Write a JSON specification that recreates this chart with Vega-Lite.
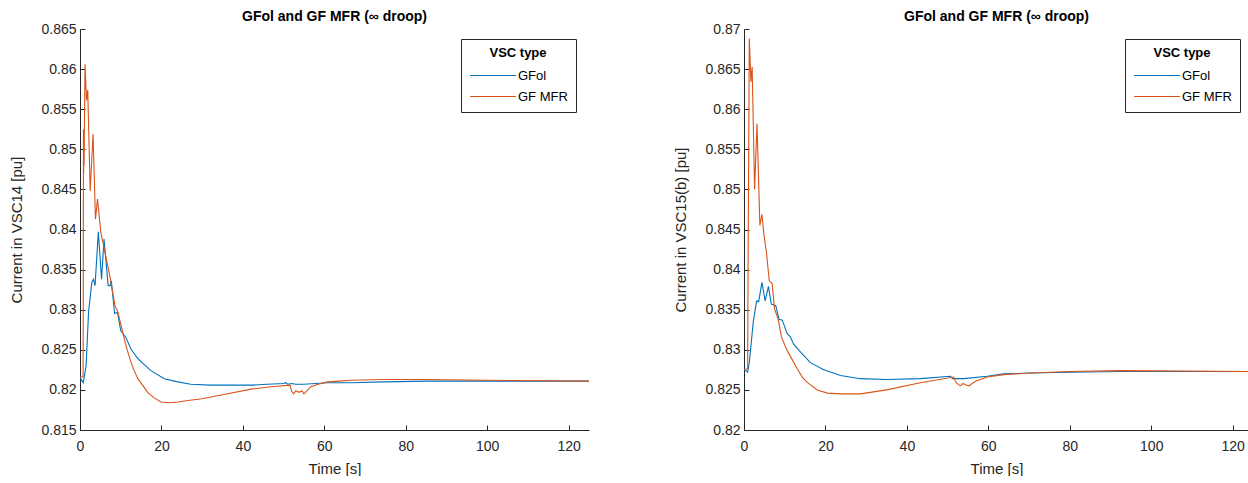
{
  "$schema": "https://vega.github.io/schema/vega-lite/v6.json",
  "padding": {"left": 9, "top": 10, "right": 0, "bottom": 0},
  "spacing": 155,
  "bounds": "flush",
  "config": {
    "font": "Liberation Sans",
    "view": {"stroke": null},
    "axis": {"domainColor": "#262626", "tickColor": "#262626", "labelColor": "#262626", "titleColor": "#262626", "labelFont": "Liberation Sans", "titleFont": "Liberation Sans", "labelFontSize": 14, "titleFontSize": 15, "titleFontWeight": "normal", "grid": false, "tickSize": -5, "domainWidth": 1, "tickWidth": 1, "labelFlush": false},
    "axisY": {"titlePadding": 16, "labelPadding": 9},
    "axisX": {"titlePadding": 8, "labelPadding": 14},
    "title": {"fontSize": 14, "fontWeight": "bold", "color": "#000000", "offset": -2, "anchor": "middle", "font": "Liberation Sans"},
    "legend": {"strokeColor": "#262626", "fillColor": "white", "padding": 8, "titleFontSize": 13, "titleFontWeight": "bold", "titleColor": "#000000", "titleAnchor": "middle", "titlePadding": 3, "labelFontSize": 13, "labelColor": "#000000", "symbolType": "M-1,0H3", "symbolSize": 529, "symbolStrokeWidth": 1.1, "rowPadding": 1, "labelOffset": 24, "titleFont": "Liberation Sans", "labelFont": "Liberation Sans"}
  },
  "resolve": {"scale": {"color": "independent"}, "legend": {"color": "independent"}},
  "datasets": {
    "left": [
      {"t": 0, "v": 0.8215, "type": "GFol"},
      {"t": 0.8, "v": 0.8209, "type": "GFol"},
      {"t": 1.5, "v": 0.8230, "type": "GFol"},
      {"t": 2.1, "v": 0.8297, "type": "GFol"},
      {"t": 2.9, "v": 0.8334, "type": "GFol"},
      {"t": 3.3, "v": 0.8338, "type": "GFol"},
      {"t": 3.7, "v": 0.8330, "type": "GFol"},
      {"t": 4.5, "v": 0.8397, "type": "GFol"},
      {"t": 5.3, "v": 0.8338, "type": "GFol"},
      {"t": 5.9, "v": 0.8388, "type": "GFol"},
      {"t": 6.9, "v": 0.8330, "type": "GFol"},
      {"t": 7.4, "v": 0.8330, "type": "GFol"},
      {"t": 7.7, "v": 0.8336, "type": "GFol"},
      {"t": 8.5, "v": 0.8295, "type": "GFol"},
      {"t": 9.2, "v": 0.8297, "type": "GFol"},
      {"t": 10.0, "v": 0.8274, "type": "GFol"},
      {"t": 11.3, "v": 0.8265, "type": "GFol"},
      {"t": 12.5, "v": 0.8251, "type": "GFol"},
      {"t": 14.2, "v": 0.8239, "type": "GFol"},
      {"t": 17.4, "v": 0.8224, "type": "GFol"},
      {"t": 20.7, "v": 0.8214, "type": "GFol"},
      {"t": 24, "v": 0.8210, "type": "GFol"},
      {"t": 27.2, "v": 0.8207, "type": "GFol"},
      {"t": 32, "v": 0.8206, "type": "GFol"},
      {"t": 38, "v": 0.8206, "type": "GFol"},
      {"t": 42, "v": 0.8206, "type": "GFol"},
      {"t": 46, "v": 0.8207, "type": "GFol"},
      {"t": 50, "v": 0.8208, "type": "GFol"},
      {"t": 50.5, "v": 0.8209, "type": "GFol"},
      {"t": 51, "v": 0.8207, "type": "GFol"},
      {"t": 52, "v": 0.8208, "type": "GFol"},
      {"t": 53, "v": 0.8207, "type": "GFol"},
      {"t": 55, "v": 0.8207, "type": "GFol"},
      {"t": 60.8, "v": 0.8209, "type": "GFol"},
      {"t": 66.5, "v": 0.8209, "type": "GFol"},
      {"t": 74.7, "v": 0.8210, "type": "GFol"},
      {"t": 85, "v": 0.8211, "type": "GFol"},
      {"t": 100, "v": 0.8211, "type": "GFol"},
      {"t": 125, "v": 0.8211, "type": "GFol"},
      {"t": 0, "v": 0.8216, "type": "GF MFR"},
      {"t": 0.75, "v": 0.8216, "type": "GF MFR"},
      {"t": 0.8, "v": 0.8300, "type": "GF MFR"},
      {"t": 0.85, "v": 0.8525, "type": "GF MFR"},
      {"t": 0.9, "v": 0.8470, "type": "GF MFR"},
      {"t": 0.95, "v": 0.8525, "type": "GF MFR"},
      {"t": 1.0, "v": 0.8480, "type": "GF MFR"},
      {"t": 1.23, "v": 0.8606, "type": "GF MFR"},
      {"t": 1.6, "v": 0.8561, "type": "GF MFR"},
      {"t": 1.9, "v": 0.8574, "type": "GF MFR"},
      {"t": 2.5, "v": 0.8448, "type": "GF MFR"},
      {"t": 3.2, "v": 0.8519, "type": "GF MFR"},
      {"t": 3.8, "v": 0.8413, "type": "GF MFR"},
      {"t": 4.3, "v": 0.8438, "type": "GF MFR"},
      {"t": 5.1, "v": 0.8397, "type": "GF MFR"},
      {"t": 6.0, "v": 0.8375, "type": "GF MFR"},
      {"t": 6.8, "v": 0.8355, "type": "GF MFR"},
      {"t": 7.4, "v": 0.8340, "type": "GF MFR"},
      {"t": 8.0, "v": 0.8322, "type": "GF MFR"},
      {"t": 8.6, "v": 0.8305, "type": "GF MFR"},
      {"t": 9.3, "v": 0.8297, "type": "GF MFR"},
      {"t": 10.1, "v": 0.8280, "type": "GF MFR"},
      {"t": 10.9, "v": 0.8263, "type": "GF MFR"},
      {"t": 11.7, "v": 0.8248, "type": "GF MFR"},
      {"t": 12.5, "v": 0.8235, "type": "GF MFR"},
      {"t": 13.3, "v": 0.8224, "type": "GF MFR"},
      {"t": 14.2, "v": 0.8214, "type": "GF MFR"},
      {"t": 15.5, "v": 0.8205, "type": "GF MFR"},
      {"t": 16.6, "v": 0.8197, "type": "GF MFR"},
      {"t": 18.2, "v": 0.8190, "type": "GF MFR"},
      {"t": 19.9, "v": 0.8185, "type": "GF MFR"},
      {"t": 22, "v": 0.8184, "type": "GF MFR"},
      {"t": 24, "v": 0.8185, "type": "GF MFR"},
      {"t": 27, "v": 0.8187, "type": "GF MFR"},
      {"t": 30, "v": 0.8189, "type": "GF MFR"},
      {"t": 35, "v": 0.8194, "type": "GF MFR"},
      {"t": 42, "v": 0.8201, "type": "GF MFR"},
      {"t": 47, "v": 0.8204, "type": "GF MFR"},
      {"t": 51.6, "v": 0.8206, "type": "GF MFR"},
      {"t": 52, "v": 0.8198, "type": "GF MFR"},
      {"t": 52.5, "v": 0.8195, "type": "GF MFR"},
      {"t": 53, "v": 0.8199, "type": "GF MFR"},
      {"t": 53.8, "v": 0.8197, "type": "GF MFR"},
      {"t": 54.5, "v": 0.8199, "type": "GF MFR"},
      {"t": 55, "v": 0.8195, "type": "GF MFR"},
      {"t": 56.7, "v": 0.8204, "type": "GF MFR"},
      {"t": 58.5, "v": 0.8207, "type": "GF MFR"},
      {"t": 60.8, "v": 0.8210, "type": "GF MFR"},
      {"t": 63.5, "v": 0.8211, "type": "GF MFR"},
      {"t": 66.5, "v": 0.8212, "type": "GF MFR"},
      {"t": 74.7, "v": 0.8213, "type": "GF MFR"},
      {"t": 85, "v": 0.8213, "type": "GF MFR"},
      {"t": 100, "v": 0.8212, "type": "GF MFR"},
      {"t": 125, "v": 0.8211, "type": "GF MFR"}
    ],
    "right": [
      {"t": 0, "v": 0.8276, "type": "GFol"},
      {"t": 0.9, "v": 0.8272, "type": "GFol"},
      {"t": 1.3, "v": 0.8284, "type": "GFol"},
      {"t": 2.3, "v": 0.8336, "type": "GFol"},
      {"t": 3.1, "v": 0.8361, "type": "GFol"},
      {"t": 3.6, "v": 0.8360, "type": "GFol"},
      {"t": 4.4, "v": 0.8384, "type": "GFol"},
      {"t": 5.2, "v": 0.8361, "type": "GFol"},
      {"t": 6.0, "v": 0.8379, "type": "GFol"},
      {"t": 6.7, "v": 0.8357, "type": "GFol"},
      {"t": 7.8, "v": 0.8355, "type": "GFol"},
      {"t": 8.6, "v": 0.8338, "type": "GFol"},
      {"t": 9.4, "v": 0.8337, "type": "GFol"},
      {"t": 10.6, "v": 0.8320, "type": "GFol"},
      {"t": 11.4, "v": 0.8316, "type": "GFol"},
      {"t": 12.2, "v": 0.8307, "type": "GFol"},
      {"t": 13.9, "v": 0.8297, "type": "GFol"},
      {"t": 16.3, "v": 0.8284, "type": "GFol"},
      {"t": 19.6, "v": 0.8275, "type": "GFol"},
      {"t": 23.7, "v": 0.8268, "type": "GFol"},
      {"t": 28.6, "v": 0.8264, "type": "GFol"},
      {"t": 35, "v": 0.8263, "type": "GFol"},
      {"t": 43.3, "v": 0.8264, "type": "GFol"},
      {"t": 50.7, "v": 0.8267, "type": "GFol"},
      {"t": 51.2, "v": 0.8264, "type": "GFol"},
      {"t": 54, "v": 0.8264, "type": "GFol"},
      {"t": 59.7, "v": 0.8267, "type": "GFol"},
      {"t": 63.8, "v": 0.8270, "type": "GFol"},
      {"t": 70.4, "v": 0.8271, "type": "GFol"},
      {"t": 80, "v": 0.8272, "type": "GFol"},
      {"t": 92.4, "v": 0.8273, "type": "GFol"},
      {"t": 124, "v": 0.8273, "type": "GFol"},
      {"t": 0, "v": 0.8276, "type": "GF MFR"},
      {"t": 0.9, "v": 0.8276, "type": "GF MFR"},
      {"t": 1.0, "v": 0.8400, "type": "GF MFR"},
      {"t": 1.3, "v": 0.8688, "type": "GF MFR"},
      {"t": 1.7, "v": 0.8634, "type": "GF MFR"},
      {"t": 2.0, "v": 0.8653, "type": "GF MFR"},
      {"t": 2.6, "v": 0.8500, "type": "GF MFR"},
      {"t": 3.2, "v": 0.8582, "type": "GF MFR"},
      {"t": 3.9, "v": 0.8455, "type": "GF MFR"},
      {"t": 4.4, "v": 0.8469, "type": "GF MFR"},
      {"t": 4.9, "v": 0.8443, "type": "GF MFR"},
      {"t": 5.5, "v": 0.8422, "type": "GF MFR"},
      {"t": 6.2, "v": 0.8386, "type": "GF MFR"},
      {"t": 6.9, "v": 0.8383, "type": "GF MFR"},
      {"t": 7.5, "v": 0.8351, "type": "GF MFR"},
      {"t": 8.4, "v": 0.8338, "type": "GF MFR"},
      {"t": 9.2, "v": 0.8316, "type": "GF MFR"},
      {"t": 10.4, "v": 0.8301, "type": "GF MFR"},
      {"t": 11.7, "v": 0.8289, "type": "GF MFR"},
      {"t": 13.1, "v": 0.8276, "type": "GF MFR"},
      {"t": 14.3, "v": 0.8266, "type": "GF MFR"},
      {"t": 15.6, "v": 0.8259, "type": "GF MFR"},
      {"t": 18, "v": 0.8250, "type": "GF MFR"},
      {"t": 20.5, "v": 0.8246, "type": "GF MFR"},
      {"t": 24, "v": 0.8245, "type": "GF MFR"},
      {"t": 28.6, "v": 0.8245, "type": "GF MFR"},
      {"t": 35, "v": 0.8250, "type": "GF MFR"},
      {"t": 43.3, "v": 0.8259, "type": "GF MFR"},
      {"t": 51.5, "v": 0.8266, "type": "GF MFR"},
      {"t": 51.8, "v": 0.8262, "type": "GF MFR"},
      {"t": 52.3, "v": 0.8258, "type": "GF MFR"},
      {"t": 53.1, "v": 0.8255, "type": "GF MFR"},
      {"t": 53.8, "v": 0.8258, "type": "GF MFR"},
      {"t": 54.5, "v": 0.8256, "type": "GF MFR"},
      {"t": 55.3, "v": 0.8255, "type": "GF MFR"},
      {"t": 56, "v": 0.8258, "type": "GF MFR"},
      {"t": 57, "v": 0.8261, "type": "GF MFR"},
      {"t": 59.7, "v": 0.8266, "type": "GF MFR"},
      {"t": 63.8, "v": 0.8269, "type": "GF MFR"},
      {"t": 70.4, "v": 0.8271, "type": "GF MFR"},
      {"t": 80, "v": 0.8273, "type": "GF MFR"},
      {"t": 92.4, "v": 0.8274, "type": "GF MFR"},
      {"t": 124, "v": 0.8273, "type": "GF MFR"}
    ]
  },
  "hconcat": [
    {
      "width": 509,
      "height": 401,
      "title": {"text": "GFol and GF MFR (∞ droop)"},
      "data": {"name": "left"},
      "mark": {"type": "line", "strokeWidth": 1.1, "clip": true},
      "encoding": {
        "x": {"field": "t", "type": "quantitative", "scale": {"domain": [0, 125], "nice": false, "zero": false}, "axis": {"title": "Time [s]", "values": [0, 20, 40, 60, 80, 100, 120]}},
        "y": {"field": "v", "type": "quantitative", "scale": {"domain": [0.815, 0.865], "nice": false, "zero": false}, "axis": {"title": "Current in VSC14 [pu]", "values": [0.815, 0.82, 0.825, 0.83, 0.835, 0.84, 0.845, 0.85, 0.855, 0.86, 0.865], "format": ".3~f"}},
        "color": {"field": "type", "type": "nominal", "scale": {"domain": ["GFol", "GF MFR"], "range": ["#0072BD", "#D95319"]}, "legend": {"title": "VSC type", "orient": "none", "legendX": 381, "legendY": 10}}
      }
    },
    {
      "width": 505,
      "height": 401,
      "title": {"text": "GFol and GF MFR (∞ droop)"},
      "data": {"name": "right"},
      "mark": {"type": "line", "strokeWidth": 1.1, "clip": true},
      "encoding": {
        "x": {"field": "t", "type": "quantitative", "scale": {"domain": [0, 124], "nice": false, "zero": false}, "axis": {"title": "Time [s]", "values": [0, 20, 40, 60, 80, 100, 120]}},
        "y": {"field": "v", "type": "quantitative", "scale": {"domain": [0.82, 0.87], "nice": false, "zero": false}, "axis": {"title": "Current in VSC15(b) [pu]", "values": [0.82, 0.825, 0.83, 0.835, 0.84, 0.845, 0.85, 0.855, 0.86, 0.865, 0.87], "format": ".3~f"}},
        "color": {"field": "type", "type": "nominal", "scale": {"domain": ["GFol", "GF MFR"], "range": ["#0072BD", "#D95319"]}, "legend": {"title": "VSC type", "orient": "none", "legendX": 381, "legendY": 10}}
      }
    }
  ]
}
